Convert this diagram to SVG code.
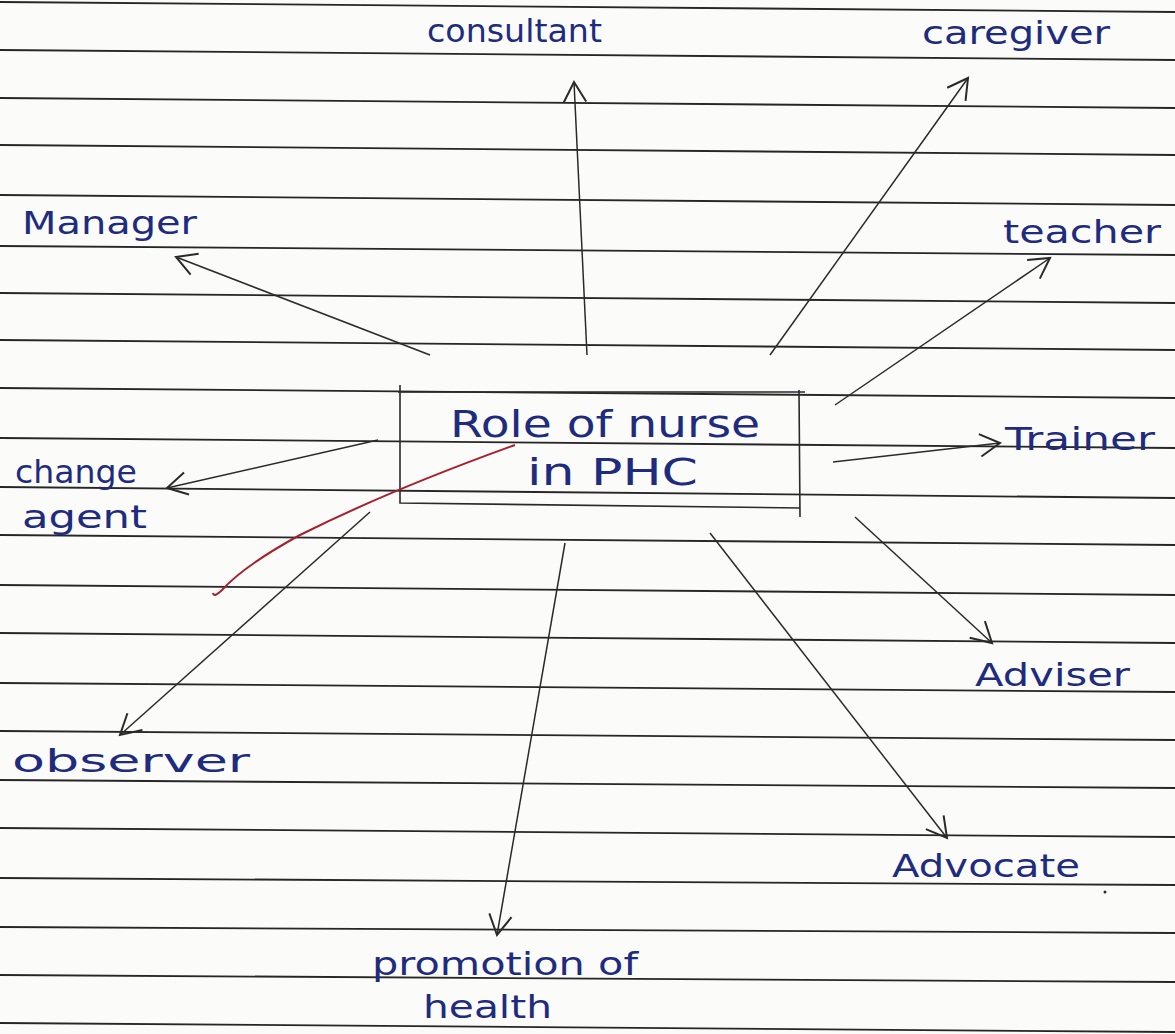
<svg xmlns="http://www.w3.org/2000/svg" width="1175" height="1034" viewBox="0 0 1175 1034">
  <style>
    .rule { stroke: #262626; stroke-width: 1.8; }
    .ink { font-family: "DejaVu Sans", "Liberation Sans", sans-serif; fill: #1f2c7e; font-weight: normal; }
    .lbl { font-size: 32px; }
    .title { font-size: 38px; }
    .arrow { stroke: #2a2a2a; stroke-width: 1.5; fill: none; marker-end: url(#head); }
    .frame { stroke: #2a2a2a; stroke-width: 1.6; fill: none; }
  </style>
  <defs>
    <marker id="head" markerUnits="userSpaceOnUse" markerWidth="30" markerHeight="30" viewBox="-20 -12 24 24" refX="0" refY="0" orient="auto">
      <path d="M -16 -9 L 0 0 L -16 9" fill="none" stroke="#2a2a2a" stroke-width="1.6"/>
    </marker>
  </defs>

  <!-- ruled notebook paper -->
  <rect width="1175" height="1034" fill="#fbfbfa"/>
  <g id="ruling">
    <line class="rule" x1="0" y1="2" x2="1175" y2="12"/>
    <line class="rule" x1="0" y1="50" x2="1175" y2="60"/>
    <line class="rule" x1="0" y1="98" x2="1175" y2="108"/>
    <line class="rule" x1="0" y1="145" x2="1175" y2="155"/>
    <line class="rule" x1="0" y1="195" x2="1175" y2="205"/>
    <line class="rule" x1="0" y1="246" x2="1175" y2="255"/>
    <line class="rule" x1="0" y1="293" x2="1175" y2="303"/>
    <line class="rule" x1="0" y1="340" x2="1175" y2="350"/>
    <line class="rule" x1="0" y1="388" x2="1175" y2="398"/>
    <line class="rule" x1="0" y1="438" x2="1175" y2="448"/>
    <line class="rule" x1="0" y1="487" x2="1175" y2="498"/>
    <line class="rule" x1="0" y1="535" x2="1175" y2="545"/>
    <line class="rule" x1="0" y1="585" x2="1175" y2="595"/>
    <line class="rule" x1="0" y1="633" x2="1175" y2="643"/>
    <line class="rule" x1="0" y1="683" x2="1175" y2="692"/>
    <line class="rule" x1="0" y1="731" x2="1175" y2="740"/>
    <line class="rule" x1="0" y1="780" x2="1175" y2="788"/>
    <line class="rule" x1="0" y1="828" x2="1175" y2="837"/>
    <line class="rule" x1="0" y1="878" x2="1175" y2="885"/>
    <line class="rule" x1="0" y1="927" x2="1175" y2="933"/>
    <line class="rule" x1="0" y1="975" x2="1175" y2="982"/>
    <line class="rule" x1="0" y1="1023" x2="1175" y2="1032"/>
  </g>

  <!-- spokes from the central box -->
  <g id="connectors">
    <line class="arrow" x1="587" y1="355" x2="574" y2="82"/>
    <line class="arrow" x1="770" y1="355" x2="968" y2="78"/>
    <line class="arrow" x1="835" y1="405" x2="1050" y2="258"/>
    <line class="arrow" x1="833" y1="462" x2="1000" y2="443"/>
    <line class="arrow" x1="430" y1="355" x2="176" y2="257"/>
    <line class="arrow" x1="378" y1="440" x2="167" y2="488"/>
    <line class="arrow" x1="370" y1="512" x2="120" y2="735"/>
    <line class="arrow" x1="565" y1="543" x2="497" y2="935"/>
    <line class="arrow" x1="710" y1="533" x2="947" y2="838"/>
    <line class="arrow" x1="855" y1="517" x2="992" y2="643"/>
  </g>

  <!-- central node -->
  <g id="center">
    <path class="frame" d="M 400 385 L 400 503 L 800 508 M 398 392 L 805 392 M 799 390 L 800 517"/>
    <text class="ink title" x="450" y="437" textLength="310" lengthAdjust="spacingAndGlyphs">Role of nurse</text>
    <text class="ink title" x="527" y="485" textLength="171" lengthAdjust="spacingAndGlyphs">in PHC</text>
    <path d="M 515 445 Q 390 490 300 535 Q 245 565 222 590 Q 214 598 213 593" fill="none" stroke="#a5202e" stroke-width="2"/>
  </g>

  <g id="consultant">
    <text class="ink lbl" x="427" y="42" textLength="175" lengthAdjust="spacingAndGlyphs">consultant</text>
  </g>
  <g id="caregiver">
    <text class="ink lbl" x="922" y="44" textLength="188" lengthAdjust="spacingAndGlyphs">caregiver</text>
  </g>
  <g id="manager">
    <text class="ink lbl" x="22" y="234" textLength="175" lengthAdjust="spacingAndGlyphs">Manager</text>
  </g>
  <g id="teacher">
    <text class="ink lbl" x="1003" y="243" textLength="158" lengthAdjust="spacingAndGlyphs">teacher</text>
  </g>
  <g id="trainer">
    <text class="ink lbl" x="1005" y="450" textLength="150" lengthAdjust="spacingAndGlyphs">Trainer</text>
  </g>
  <g id="change-agent">
    <text class="ink lbl" x="15" y="483" textLength="122" lengthAdjust="spacingAndGlyphs">change</text>
    <text class="ink lbl" x="22" y="528" textLength="125" lengthAdjust="spacingAndGlyphs">agent</text>
  </g>
  <g id="observer">
    <text class="ink lbl" x="12" y="772" textLength="238" lengthAdjust="spacingAndGlyphs">observer</text>
  </g>
  <g id="promotion">
    <text class="ink lbl" x="372" y="975" textLength="266" lengthAdjust="spacingAndGlyphs">promotion of</text>
    <text class="ink lbl" x="423" y="1018" textLength="129" lengthAdjust="spacingAndGlyphs">health</text>
  </g>
  <g id="advocate">
    <text class="ink lbl" x="892" y="877" textLength="188" lengthAdjust="spacingAndGlyphs">Advocate</text>
    <circle cx="1105" cy="892" r="1.5" fill="#2a2a2a"/>
  </g>
  <g id="adviser">
    <text class="ink lbl" x="975" y="686" textLength="155" lengthAdjust="spacingAndGlyphs">Adviser</text>
  </g>
</svg>
